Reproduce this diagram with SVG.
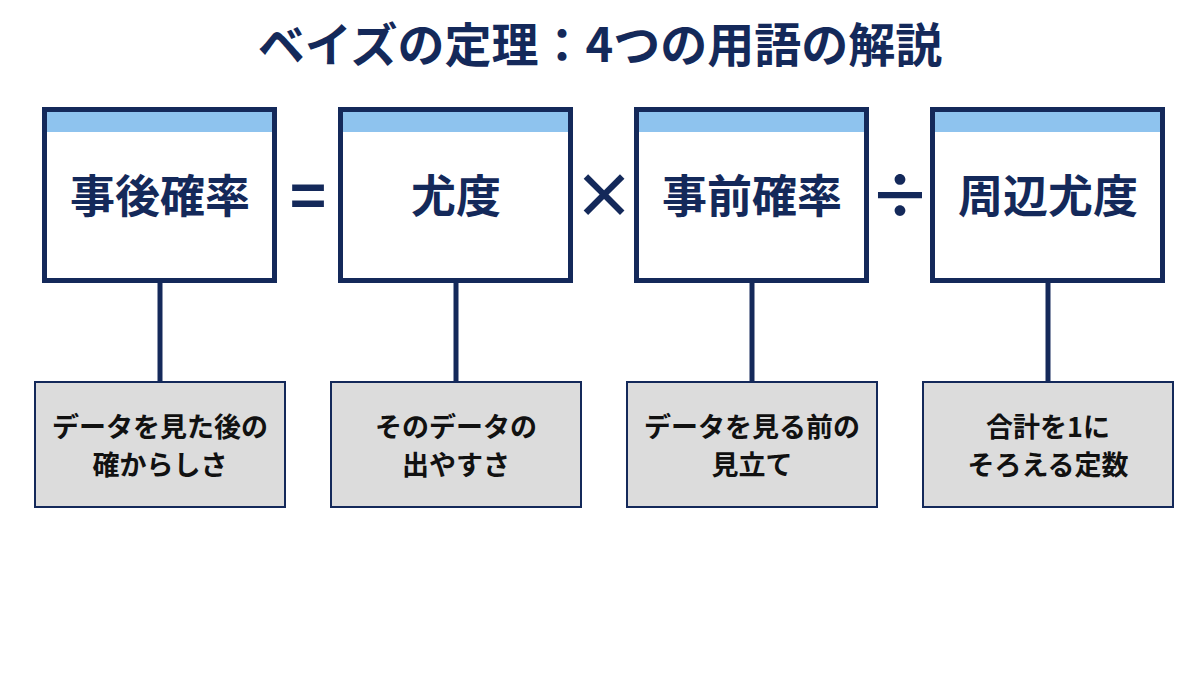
<svg xmlns="http://www.w3.org/2000/svg" width="1200" height="675" viewBox="0 0 1200 675">
<style>
.main{fill:#fff;stroke:#14295a;stroke-width:5}
.bar{fill:#8ec3ee}
.sub{fill:#dcdcdc;stroke:#14295a;stroke-width:2}
.t{font-family:"Noto Sans CJK JP","Noto Sans",sans-serif;font-weight:700;text-anchor:middle}
.mt{font-size:45px;fill:#14295a}
.st{font-size:27px;fill:#111}
.op{font-size:62px;fill:#14295a}
.ln{stroke:#14295a;stroke-width:5}
</style>
<rect width="1200" height="675" fill="#fff"/>
<text class="t" x="600" y="62" font-size="47" fill="#14295a">ベイズの定理：4つの用語の解説</text>
<g id="connectors">
<line class="ln" x1="160" y1="283" x2="160" y2="382"/>
<line class="ln" x1="456" y1="283" x2="456" y2="382"/>
<line class="ln" x1="752" y1="283" x2="752" y2="382"/>
<line class="ln" x1="1048" y1="283" x2="1048" y2="382"/>
</g>
<g id="n1"><rect class="main" x="44.5" y="109.5" width="230" height="171"/><rect class="bar" x="47" y="112" width="225" height="20"/><text class="t mt" x="160" y="213">事後確率</text></g>
<g id="n2"><rect class="main" x="340.5" y="109.5" width="230" height="171"/><rect class="bar" x="343" y="112" width="225" height="20"/><text class="t mt" x="456" y="213">尤度</text></g>
<g id="n3"><rect class="main" x="636.5" y="109.5" width="230" height="171"/><rect class="bar" x="639" y="112" width="225" height="20"/><text class="t mt" x="752" y="213">事前確率</text></g>
<g id="n4"><rect class="main" x="932.5" y="109.5" width="230" height="171"/><rect class="bar" x="935" y="112" width="225" height="20"/><text class="t mt" x="1048" y="213">周辺尤度</text></g>
<g id="ops">
<text class="t op" x="308" y="219">=</text>
<text class="t op" x="604" y="219">×</text>
<text class="t op" x="900" y="219">÷</text>
</g>
<g id="d1"><rect class="sub" x="35" y="382" width="250" height="125"/><text class="t st" x="160" y="437">データを見た後の</text><text class="t st" x="160" y="475">確からしさ</text></g>
<g id="d2"><rect class="sub" x="331" y="382" width="250" height="125"/><text class="t st" x="456" y="437">そのデータの</text><text class="t st" x="456" y="475">出やすさ</text></g>
<g id="d3"><rect class="sub" x="627" y="382" width="250" height="125"/><text class="t st" x="752" y="437">データを見る前の</text><text class="t st" x="752" y="475">見立て</text></g>
<g id="d4"><rect class="sub" x="923" y="382" width="250" height="125"/><text class="t st" x="1048" y="437">合計を1に</text><text class="t st" x="1048" y="475">そろえる定数</text></g>
</svg>
